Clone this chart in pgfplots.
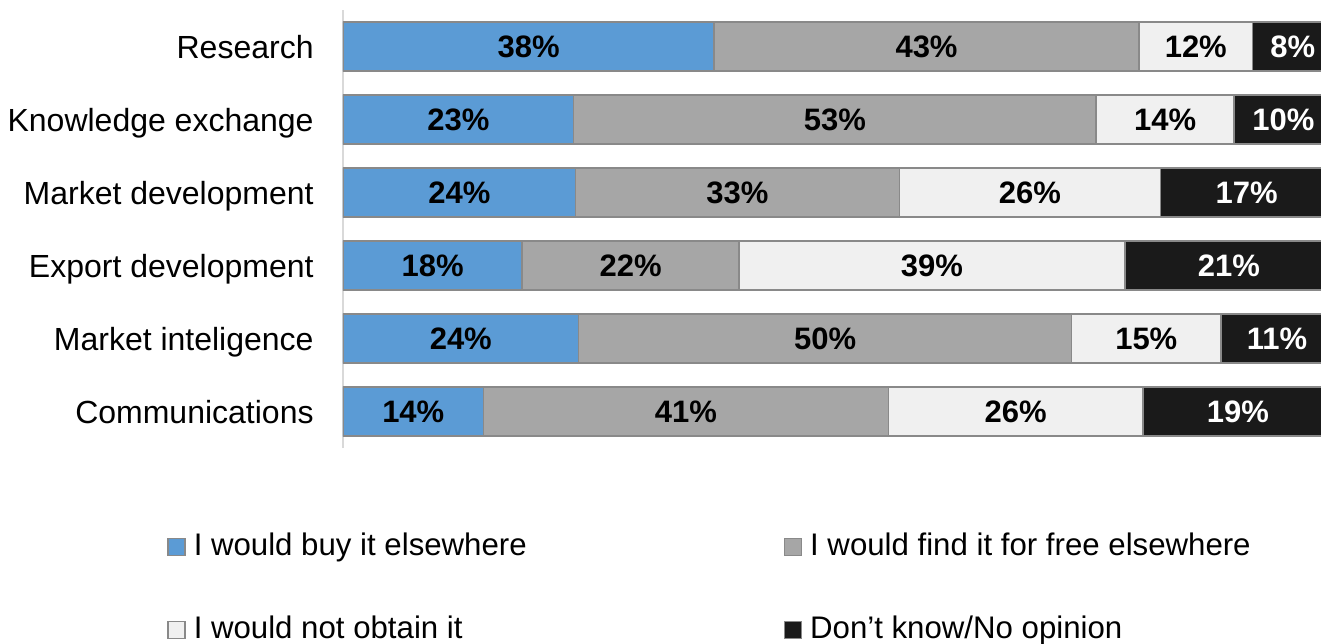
\documentclass[border=0pt]{standalone}
\usepackage{pgfplots}
\pgfplotsset{compat=1.18}
\usepackage{pgfplotstable}
\usepackage{fontspec}
\setmainfont{Liberation Sans}
\definecolor{cBlue}{HTML}{5B9BD5}
\definecolor{cGray}{HTML}{A6A6A6}
\definecolor{cLight}{HTML}{F0F0F0}
\definecolor{cDark}{HTML}{1A1A1A}
\definecolor{cEdge}{HTML}{898989}
\definecolor{cAxis}{HTML}{D9D9D9}

\pgfplotstableread{
y a b c d la lb lc ld
5 37.5 42.9 11.5 8.1 38 43 12 8
4 23.3 52.8 13.9 10.0 23 53 14 10
3 23.5 32.7 26.4 17.4 24 33 26 17
2 18.1 21.9 39.0 21.0 18 22 39 21
1 23.8 49.8 15.1 11.3 24 50 15 11
0 14.2 40.9 25.7 19.2 14 41 26 19
}\data

\begin{document}
\begin{tikzpicture}
\useasboundingbox (-171.5pt,-97.5pt) rectangle (489pt,224pt);
\begin{axis}[
  at={(0,0)}, anchor=south west,
  scale only axis, width=489pt, height=219pt,
  xbar stacked, bar width=24.5pt,
  xmin=0, xmax=98.8, ymin=-0.5, ymax=5.5,
  axis x line=none, axis y line*=left,
  y axis line style={draw=cAxis, line width=0.75pt},
  ytick={0,...,5},
  yticklabels={Communications, Market inteligence, Export development, Market development, Knowledge exchange, Research},
  major tick length=0pt,
  yticklabel style={font=\fontsize{16}{19}\selectfont, inner sep=0pt, xshift=-14.5pt, text height=11.5pt, text depth=0pt, anchor=east},
  every axis plot/.append style={draw=cEdge, line width=0.8pt},
  legend columns=2,
  legend image code/.code={\draw[#1, draw=cEdge, line width=0.7pt] (0pt,0pt) rectangle (8.5pt,8.5pt);},
  legend style={draw=none, fill=none, at={(-0.18,-0.1986)}, anchor=north west,
    inner sep=0pt, column sep=4pt, row sep=28.5pt,
    font=\fontsize{15.6}{18}\selectfont,
    nodes={inner sep=0pt, anchor=base west, text height=10pt, text depth=3pt}},
]
\addplot[fill=cBlue] table[x=a, y=y] {\data};
\addlegendentry{\makebox[291pt][l]{I would buy it elsewhere}}
\addplot[fill=cGray] table[x=b, y=y] {\data};
\addlegendentry{I would find it for free elsewhere}
\addplot[fill=cLight] table[x=c, y=y] {\data};
\addlegendentry{\makebox[291pt][l]{I would not obtain it}}
\addplot[fill=cDark] table[x=d, y=y] {\data};
\addlegendentry{Don’t know/No opinion}
\end{axis}
\begin{axis}[
  at={(0,0)}, anchor=south west,
  scale only axis, width=489pt, height=219pt,
  xmin=0, xmax=98.8, ymin=-0.5, ymax=5.5,
  hide axis, clip=false,
  every node near coord/.append style={anchor=center, font=\bfseries\fontsize{15.5}{18}\selectfont},
]
\addplot[draw=none, mark=none, nodes near coords={\pgfplotspointmeta\%}, point meta=explicit symbolic]
  table[x expr=\thisrow{a}/2, y=y, meta=la] {\data};
\addplot[draw=none, mark=none, nodes near coords={\pgfplotspointmeta\%}, point meta=explicit symbolic]
  table[x expr=\thisrow{a}+\thisrow{b}/2, y=y, meta=lb] {\data};
\addplot[draw=none, mark=none, nodes near coords={\pgfplotspointmeta\%}, point meta=explicit symbolic]
  table[x expr=\thisrow{a}+\thisrow{b}+\thisrow{c}/2, y=y, meta=lc] {\data};
\addplot[draw=none, mark=none, nodes near coords={\pgfplotspointmeta\%}, point meta=explicit symbolic,
  every node near coord/.append style={text=white}]
  table[x expr=\thisrow{a}+\thisrow{b}+\thisrow{c}+\thisrow{d}/2, y=y, meta=ld] {\data};
\end{axis}
\end{tikzpicture}
\end{document}
